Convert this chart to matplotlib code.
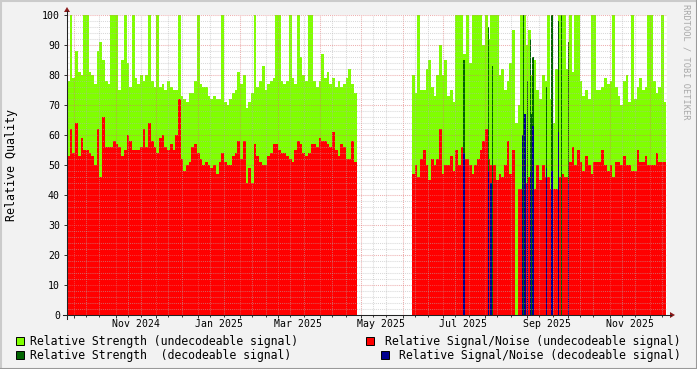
import datetime as dt
import matplotlib
matplotlib.use("Agg")
import matplotlib.pyplot as plt
import matplotlib.dates as mdates
from matplotlib.patches import Rectangle, Polygon
from matplotlib.lines import Line2D

W, H = 697, 369
MONO = "DejaVu Sans Mono"

# two-day values before and after the outage in spring
start_a = dt.date(2024, 9, 26)
start_b = dt.date(2025, 6, 8)
step = 2

strength_a = [78, 100, 79, 88, 81, 80, 100, 100, 81, 80,
              77, 88, 91, 85, 78, 77, 100, 100, 100, 75,
              85, 100, 84, 76, 100, 79, 77, 80, 78, 80,
              100, 78, 76, 100, 76, 77, 75, 78, 76, 75,
              75, 100, 73, 72, 71, 74, 74, 78, 100, 77,
              76, 76, 73, 72,
              73, 72, 72, 100, 71, 70, 72, 74, 75, 81,
              77, 80, 69, 71, 74, 100, 76, 78, 83, 75,
              77, 78, 79, 100, 100, 78, 77, 78, 100, 79,
              77, 100, 86, 80, 78, 100, 100, 78, 76, 78,
              87, 79, 81, 77, 79, 76, 78, 76, 77, 79,
              82, 77, 74]
snr_a = [53, 62, 54, 64, 53, 59, 55, 55, 54, 53,
         50, 62, 46, 66, 56, 56, 56, 58, 57, 56,
         53, 55, 60, 58, 55, 55, 55, 56, 62, 56,
         64, 58, 56, 54, 59, 60, 56, 55, 57, 55,
         60, 72, 52, 48, 50, 51, 56, 57, 54, 52,
         50, 51, 50, 49,
         50, 47, 51, 54, 51, 50, 50, 53, 54, 58,
         52, 58, 44, 49, 44, 57, 53, 51, 50, 50,
         53, 54, 57, 57, 55, 54, 54, 53, 52, 51,
         55, 58, 57, 54, 53, 54, 57, 57, 56, 59,
         58, 58, 57, 56, 61, 55, 53, 57, 56, 52,
         52, 58, 51]

strength_b = [80, 74, 100, 75, 75, 82, 85, 76, 73, 80,
              90, 80, 85, 73, 75, 71, 100, 100, 100, 87,
              100, 84, 100, 100, 100, 100, 90, 100, 92, 100,
              100, 100, 80, 82, 75, 78, 84, 95, 64, 70,
              100, 100, 90, 95, 80, 85, 75, 72, 80, 78,
              100, 72, 64, 82, 100, 100, 100, 82,
              100, 81, 100, 100, 78, 73, 75, 72, 100, 100,
              75, 75, 76, 79, 77, 78, 100, 76, 73, 70,
              78, 80, 71, 100, 72, 76, 79, 75, 76, 100,
              100, 78, 74, 76, 100, 71]
snr_b = [47, 50, 46, 52, 55, 50, 45, 52, 50, 52,
         62, 47, 50, 50, 53, 48, 55, 50, 56, 52,
         52, 50, 47, 50, 52, 55, 58, 62, 52, 50,
         50, 45, 47, 46, 50, 58, 47, 55, 0, 42,
         42, 43, 44, 46, 42, 42, 50, 45, 50, 46,
         46, 42, 42, 42, 46, 47, 46, 46,
         51, 56, 50, 55, 51, 48, 53, 50, 47, 51,
         51, 51, 55, 50, 48, 50, 46, 51, 51, 50,
         53, 50, 50, 48, 48, 55, 51, 51, 53, 50,
         50, 50, 54, 51, 51, 51]

# days with decoded signal
dec_dates = ["2025-07-16", "2025-08-03", "2025-08-05", "2025-08-06",
             "2025-08-28", "2025-08-29", "2025-08-30", "2025-09-01",
             "2025-09-03", "2025-09-04", "2025-09-05", "2025-09-15",
             "2025-09-19", "2025-09-24", "2025-09-26", "2025-10-01"]
dec_strength = [85, 96, 0, 83, 0, 100, 0, 78, 92, 67, 86, 76, 100, 98, 100, 91]
dec_snr = [54, 48, 44, 0, 60, 0, 67, 44, 48, 0, 63, 49, 48, 61, 0, 44]

x_start = dt.datetime(2024, 9, 26)
x_end = dt.datetime(2025, 12, 13, 12)

GREEN = "#80ff00"
RED = "#ff0000"
DKGREEN = "#006400"
BLUE = "#000090"


def edges(start, n):
    return [mdates.date2num(start + dt.timedelta(days=step * i)) for i in range(n + 1)]


fig = plt.figure(figsize=(W / 100, H / 100), dpi=100, facecolor="#f2f2f2")
ax = fig.add_axes([67 / W, 1 - 315 / H, 600 / W, 300 / H])
ax.set_facecolor("white")

for s, r, st in [(strength_a, snr_a, start_a), (strength_b, snr_b, start_b)]:
    e = edges(st, len(s))
    ax.stairs(s, e, fill=True, color=GREEN, lw=0, antialiased=False, zorder=1)
    ax.stairs(r, e, fill=True, color=RED, lw=0, antialiased=False, zorder=1.1)

dnum = [mdates.date2num(dt.datetime.strptime(d, "%Y-%m-%d")) for d in dec_dates]
for x, s, n in zip(dnum, dec_strength, dec_snr):
    if s:
        ax.bar(x, s, width=1, align="edge", color=DKGREEN, lw=0, antialiased=False, zorder=1.2)
    if n:
        ax.bar(x, n, width=1, align="edge", color=BLUE, lw=0, antialiased=False, zorder=1.3)

ax.set_xlim(mdates.date2num(x_start), mdates.date2num(x_end))
ax.set_ylim(0, 100)

# grid, drawn over the data like rrdtool does
ax.xaxis.set_major_locator(mdates.MonthLocator())
ax.xaxis.set_minor_locator(mdates.DayLocator(bymonthday=[10, 20]))
ax.set_yticks(range(0, 101, 10))
ax.set_yticks(range(0, 101, 2), minor=True)
ax.set_axisbelow(False)
ax.grid(True, which="minor", color="#b4b4b4", alpha=0.5, lw=0.75, ls=(0, (1, 1)), zorder=3)
ax.grid(True, which="major", color="#e07070", alpha=0.55, lw=0.75, ls=(0, (1, 1)), zorder=3)

ax.tick_params(axis="x", which="both", labelbottom=False, direction="out", color="#333333")
ax.tick_params(axis="x", which="major", length=2.2, width=0.7)
ax.tick_params(axis="x", which="minor", length=1.5, width=0.7)
ax.tick_params(axis="y", which="major", length=2.2, width=0.7, color="#333333",
               pad=2.9, labelsize=7.1)
ax.tick_params(axis="y", which="minor", length=0)
for lab in ax.get_yticklabels():
    lab.set_family(MONO)
for sp in ax.spines.values():
    sp.set_visible(False)

# month labels, centred in the middle of every second month
for y, m in [(2024, 11), (2025, 1), (2025, 3), (2025, 5), (2025, 7), (2025, 9), (2025, 11)]:
    d = dt.datetime(y, m, 1) + dt.timedelta(days=15)
    ax.text(mdates.date2num(d), -9 / 300, d.strftime("%b %Y"), transform=ax.get_xaxis_transform(),
            ha="center", va="center", fontsize=7.1, family=MONO, color="#000000")


def fx(x):
    return x / W


def fy(y):
    return 1 - y / H


# axis lines with arrows
fig.add_artist(Line2D([fx(63), fx(671)], [fy(315), fy(315)], color="#222222", lw=0.75))
fig.add_artist(Line2D([fx(67), fx(67)], [fy(319), fy(11)], color="#222222", lw=0.75))
fig.add_artist(Polygon([(fx(670), fy(312)), (fx(670), fy(318)), (fx(675), fy(315))],
                       closed=True, color="#8b1a1a", lw=0))
fig.add_artist(Polygon([(fx(64), fy(12)), (fx(70), fy(12)), (fx(67), fy(7))],
                       closed=True, color="#8b1a1a", lw=0))

fig.text(fx(12), fy(165), "Relative Quality", rotation=90, ha="center", va="center",
         fontsize=8.4, family=MONO, color="#000000")
fig.text(fx(686), fy(4), "RRDTOOL / TOBI OETIKER", rotation=-90, ha="center", va="top",
         fontsize=6.2, family=MONO, color="#a8a8a8")

# legend
legend_rows = [
    (16, 341, GREEN, 30, "left", "Relative Strength (undecodeable signal)"),
    (366, 341, RED, 681, "right", "Relative Signal/Noise (undecodeable signal)"),
    (16, 355, DKGREEN, 30, "left", "Relative Strength  (decodeable signal)"),
    (381, 355, BLUE, 681, "right", "Relative Signal/Noise (decodeable signal)"),
]
for bx, by, col, tx, ha, label in legend_rows:
    fig.add_artist(Rectangle((fx(bx), fy(by + 4)), 8 / W, 8 / H, facecolor=col,
                             edgecolor="black", lw=0.7))
    fig.text(fx(tx), fy(by), label, ha=ha, va="center", fontsize=8.3, family=MONO,
             color="#000000")

# shaded frame
fig.add_artist(Line2D([0, 1], [fy(0.5), fy(0.5)], color="#cbcbcb", lw=1.5))
fig.add_artist(Line2D([fx(0.5), fx(0.5)], [0, 1], color="#cbcbcb", lw=1.5))
fig.add_artist(Line2D([0, 1], [fy(368.5), fy(368.5)], color="#999999", lw=1.5))
fig.add_artist(Line2D([fx(696.5), fx(696.5)], [0, 1], color="#999999", lw=1.5))

fig.savefig("out.png", dpi=100, facecolor=fig.get_facecolor())
